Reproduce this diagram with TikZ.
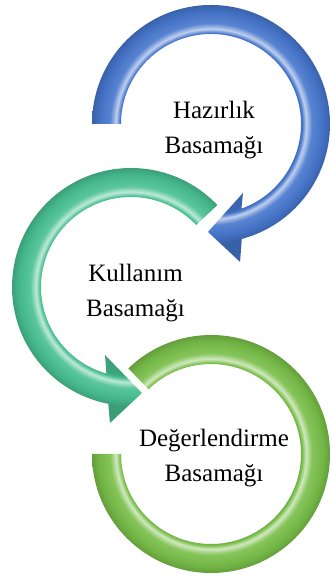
\documentclass[tikz,border=0pt]{standalone}
\usepackage{fontspec}
\setmainfont{Liberation Serif}
\definecolor{blueA}{RGB}{70,118,205}
\definecolor{tealA}{RGB}{72,192,146}
\definecolor{greenA}{RGB}{120,190,72}
% radial shading: circle of radius 145bp maps to 25bp
\newcommand{\myringshade}[2]{%
  \pgfdeclareradialshading{#1}{\pgfpoint{0bp}{0bp}}{%
    color(0bp)=(#2!85!black);
    color(15.2bp)=(#2!85!black);
    color(15.7bp)=(#2);
    color(16.4bp)=(#2!35!white);
    color(17.4bp)=(#2!90!white);
    color(19.4bp)=(#2!95!black);
    color(20.6bp)=(#2!82!black);
    color(25bp)=(#2!82!black);
    color(50bp)=(#2!82!black)}}
\myringshade{blueshade}{blueA}
\myringshade{tealshade}{tealA}
\myringshade{greenshade}{greenA}
\tikzset{
  ringtext/.style={align=center,inner sep=0pt,text=black,
    font=\fontsize{25bp}{35.5bp}\selectfont}
}
\begin{document}
\begin{tikzpicture}[x=1bp,y=1bp]
\useasboundingbox (0,0) rectangle (330,578);
% green ring (no arrow head)
\begin{scope}[shift={(211,124)}]
  \begin{scope}
    \clip (180:119bp) arc[start angle=180,end angle=494,radius=119bp]
      -- (494:90bp) arc[start angle=494,end angle=180,radius=90bp] -- cycle;
    \shade[shading=greenshade] (0,0) circle (145bp);
  \end{scope}
\end{scope}
% teal arrow
\begin{scope}[shift={(131,291)}]
  \begin{scope}
    \clip (43.5:119bp) arc[start angle=43.5,end angle=259,radius=119bp]
      -- (261.2:137.6bp) -- (275.9:106.6bp) -- (249.1:72.8bp)
      -- (254.1:90bp) arc[start angle=254.1,end angle=43.5,radius=90bp] -- cycle;
    \shade[shading=tealshade] (0,0) circle (145bp);
  \end{scope}
\end{scope}
% blue arrow
\begin{scope}[shift={(211,454)}]
  \begin{scope}
    \clip (180:119bp) arc[start angle=180,end angle=-75,radius=119bp]
      -- (-78.1:141bp) -- (-91.6:108bp) -- (-65.1:76bp)
      -- (-70.2:90bp) arc[start angle=-70.2,end angle=180,radius=90bp] -- cycle;
    \shade[shading=blueshade] (0,0) circle (145bp);
  \end{scope}
\end{scope}
\node[ringtext] (hazirlik) at (214,448) {Hazırlık\\Basamağı};
\node[ringtext] (kullanim) at (135.5,285) {Kullanım\\Basamağı};
\node[ringtext] (degerlendirme) at (214,120) {Değerlendirme\\Basamağı};
\end{tikzpicture}
\end{document}
